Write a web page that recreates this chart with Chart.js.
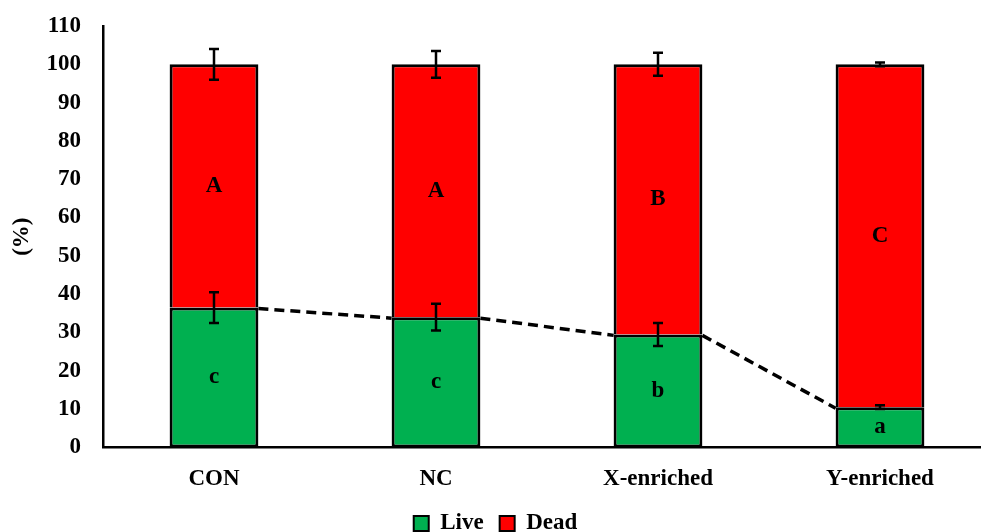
<!DOCTYPE html>
<html>
<head>
<meta charset="utf-8">
<script src="https://cdn.jsdelivr.net/npm/chart.js@4"></script>
<style>
  html, body { margin: 0; padding: 0; background: #fff; overflow: hidden; }
  .wrap { width: 991px; height: 532px; }
</style>
</head>
<body>
<div class="wrap"><canvas class="viabilityChart"></canvas></div>
<script>
"use strict";

const groups = ["CON", "NC", "X-enriched", "Y-enriched"];
const liveValues = [36.5, 34, 29.5, 10.5];
const deadValues = [63.5, 66, 70.5, 89.5];
const liveErrors = [4, 3.5, 3, 0.5];
const deadErrors = [4, 3.5, 3, 0.5];
const liveLetters = ["c", "c", "b", "a"];
const deadLetters = ["A", "A", "B", "C"];
const yTicks = [0, 10, 20, 30, 40, 50, 60, 70, 80, 90, 100, 110];

const serif = "'Liberation Serif', 'Times New Roman', serif";

// dashed lines joining the tops of the Live bars
const seriesLines = {
  id: "seriesLines",
  afterDatasetsDraw(chart) {
    const c = chart.ctx;
    const bars = chart.getDatasetMeta(0).data;
    c.save();
    c.strokeStyle = "#000";
    c.lineWidth = 3.5;
    c.setLineDash([10, 6]);
    for (let i = 0; i < bars.length - 1; i++) {
      const a = bars[i];
      const b = bars[i + 1];
      c.beginPath();
      c.moveTo(a.x + a.width / 2, a.y + 1);
      c.lineTo(b.x - b.width / 2, b.y + 1);
      c.stroke();
    }
    c.restore();
  },
};

// error bars and letters
const annotations = {
  id: "annotations",
  afterDatasetsDraw(chart) {
    const c = chart.ctx;
    const y = chart.scales.y;
    c.save();
    c.strokeStyle = "#000";
    c.fillStyle = "#000";
    c.lineWidth = 2.5;
    const sets = [
      { meta: 0, base: () => 0, vals: liveValues, errs: liveErrors, letters: liveLetters },
      { meta: 1, base: (i) => liveValues[i], vals: deadValues, errs: deadErrors, letters: deadLetters },
    ];
    sets.forEach((s) => {
      const bars = chart.getDatasetMeta(s.meta).data;
      bars.forEach((bar, i) => {
        const top = s.base(i) + s.vals[i];
        const yHi = y.getPixelForValue(top + s.errs[i]);
        const yLo = y.getPixelForValue(top - s.errs[i]);
        c.beginPath();
        c.moveTo(bar.x, yHi);
        c.lineTo(bar.x, yLo);
        c.moveTo(bar.x - 5, yHi);
        c.lineTo(bar.x + 5, yHi);
        c.moveTo(bar.x - 5, yLo);
        c.lineTo(bar.x + 5, yLo);
        c.stroke();

        c.font = "bold 23px " + serif;
        c.textAlign = "center";
        c.textBaseline = "middle";
        const mid = y.getPixelForValue(s.base(i) + s.vals[i] / 2);
        c.fillText(s.letters[i], bar.x, mid);
      });
    });
    c.restore();
  },
};

const ctx = document.querySelector(".viabilityChart");

const myChart = new Chart(ctx, {
  type: "bar",
  data: {
    labels: groups,
    datasets: [
      {
        label: "Live",
        data: liveValues,
        backgroundColor: "#00B050",
        borderColor: "#000",
        borderWidth: 3,
        borderSkipped: false,
        barPercentage: 0.4,
        categoryPercentage: 1,
      },
      {
        label: "Dead",
        data: deadValues,
        backgroundColor: "#FF0000",
        borderColor: "#000",
        borderWidth: 3,
        borderSkipped: "bottom",
        barPercentage: 0.4,
        categoryPercentage: 1,
      },
    ],
  },
  options: {
    responsive: true,
    maintainAspectRatio: false,
    animation: false,
    layout: { padding: { top: 0, left: 0, right: 0, bottom: -13 } },
    plugins: {
      legend: {
        position: "bottom",
        labels: {
          color: "#000",
          font: { family: serif, size: 23, weight: "bold" },
          boxWidth: 15,
          boxHeight: 15,
          padding: 16,
          generateLabels(chart) {
            return chart.data.datasets.map((ds, i) => ({
              text: ds.label,
              fillStyle: ds.backgroundColor,
              strokeStyle: "#000",
              lineWidth: 2,
              datasetIndex: i,
            }));
          },
        },
      },
      tooltip: { enabled: false },
    },
    scales: {
      x: {
        stacked: true,
        afterFit(axis) {
          axis.height -= 15;
        },
        grid: { display: false, drawTicks: false },
        border: { color: "#000", width: 2.5 },
        ticks: {
          color: "#000",
          padding: 18,
          font: { family: serif, size: 23, weight: "bold" },
        },
      },
      y: {
        stacked: true,
        min: 0,
        max: 110,
        afterBuildTicks(axis) {
          axis.ticks = yTicks.map((v) => ({ value: v }));
        },
        afterFit(axis) {
          axis.width = 103;
          axis.paddingTop = 26;
          axis.paddingBottom = 0;
        },
        grid: { display: false, drawTicks: false },
        border: { color: "#000", width: 2.5 },
        ticks: {
          color: "#000",
          padding: 22,
          font: { family: serif, size: 23, weight: "bold" },
        },
        title: {
          display: true,
          text: "(%)",
          color: "#000",
          padding: { top: 8, bottom: 10 },
          font: { family: serif, size: 23, weight: "bold" },
        },
      },
    },
  },
  plugins: [seriesLines, annotations],
});
</script>
</body>
</html>
